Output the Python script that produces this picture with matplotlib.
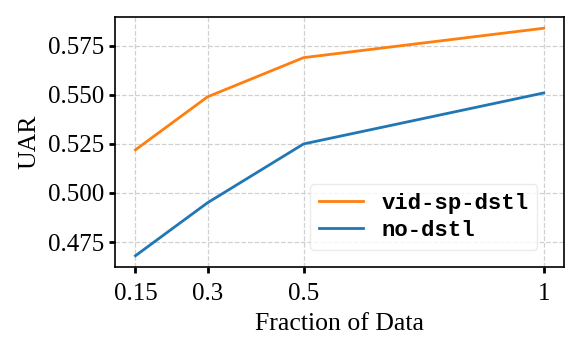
import matplotlib
matplotlib.use("Agg")
import matplotlib.pyplot as plt

# fraction of training data vs UAR
fractions = [0.15, 0.3, 0.5, 1.0]
tick_labels = ["0.15", "0.3", "0.5", "1"]
uar_vid_sp_dstl = [0.522, 0.549, 0.569, 0.584]
uar_no_dstl = [0.468, 0.495, 0.525, 0.551]

plt.rcParams['font.family'] = ['Liberation Serif', 'DejaVu Serif']

fig, ax = plt.subplots(figsize=(5.81, 3.51), dpi=100)
fig.subplots_adjust(left=0.198, right=0.971, top=0.952, bottom=0.239)

ax.plot(fractions, uar_vid_sp_dstl, color='#ff7f0e', lw=2, label='vid-sp-dstl')
ax.plot(fractions, uar_no_dstl, color='#1f77b4', lw=2, label='no-dstl')

ax.set_xticks(fractions)
ax.set_xticklabels(tick_labels)
ax.set_yticks([0.475, 0.5, 0.525, 0.55, 0.575])
ax.set_yticklabels(["0.475", "0.500", "0.525", "0.550", "0.575"])
ax.tick_params(labelsize=18, width=2, length=4.5)
ax.tick_params(axis='x', pad=7)
ax.grid(True, ls='--', color='#d0d0d0', lw=0.9)
for sp in ax.spines.values():
    sp.set_linewidth(1.2)

ax.set_xlabel('Fraction of Data', fontsize=18.5, labelpad=6)
ax.set_ylabel('UAR', fontsize=18.5, labelpad=5)

leg = ax.legend(loc='lower right', bbox_to_anchor=(0.94, 0.068), borderaxespad=0,
                prop={'family': 'Liberation Mono', 'weight': 'bold', 'size': 16},
                handlelength=2.0, labelspacing=0.3)
leg.get_frame().set_edgecolor('#e6e6e6')

fig.savefig('out.png', dpi=100)
